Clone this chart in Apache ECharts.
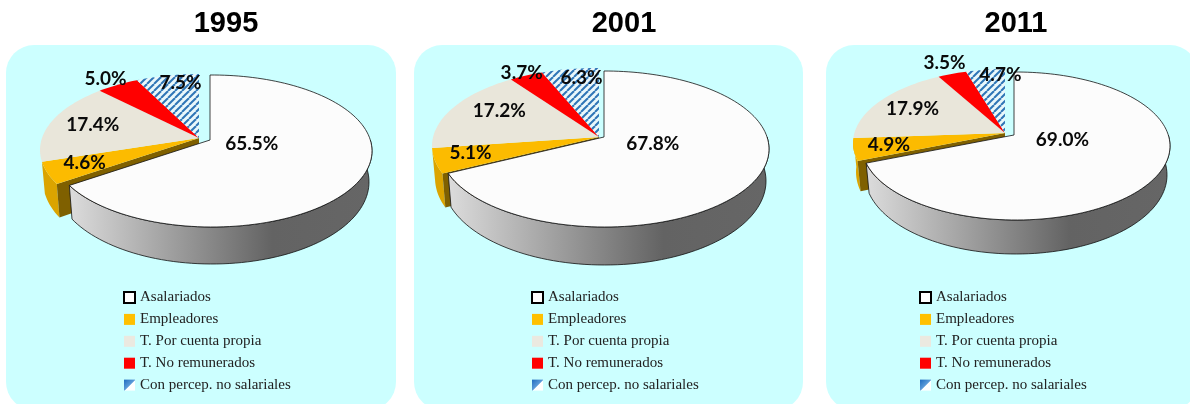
<!DOCTYPE html>
<html><head><meta charset="utf-8">
<style>html,body{margin:0;padding:0;background:#fff}#c{width:1190px;height:404px}</style>
<script src="https://cdn.jsdelivr.net/npm/echarts@6/dist/echarts.min.js"></script>
</head><body><div id="c"></div>
<script>
// ---- data ----
const categories = ['Asalariados','Empleadores','T. Por cuenta propia','T. No remunerados','Con percep. no salariales'];
const years = ['1995','2001','2011'];
const values1995 = [65.5,4.6,17.4,5.0,7.5];
const values2001 = [67.8,5.1,17.2,3.7,6.3];
const values2011 = [69.0,4.9,17.9,3.5,4.7];
const seriesByYear = [values1995,values2001,values2011];

// ---- layout: the projected pie of each panel ----
const panels = [
 {x:6,w:390,titleX:226,legendX:124,legendY:291,rx:160,ry:76,depth:31,grow:6,
  main:{ax:210,ay:140,cx:212,cy:151}, rest:{ax:199,ay:138,cx:200,cy:150},
  nudge:[[-43,-17],[-28,5],[-13,-2],[-37,-22],[4,-11]]},
 {x:414,w:389,titleX:624,legendX:532,legendY:291,rx:164.5,ry:78,depth:32,grow:6,
  main:{ax:604,ay:137,cx:604.5,cy:149}, rest:{ax:599,ay:137,cx:596.5,cy:146},
  nudge:[[-35,-18],[-34,2],[-9,-8],[-29,-23],[2,-13]]},
 {x:826,w:372,titleX:1016,legendX:920,legendY:291,rx:154,ry:74,depth:29,grow:5,
  main:{ax:1014,ay:135,cx:1016,cy:146}, rest:{ax:1005,ay:133,cx:1007,cy:143},
  nudge:[[-28,-20],[-26,2],[-11,-3],[-24,-29],[9,-14]]}
];
const sliceColors = ['#FCFCFC','#FCBB00','#E9E6DA','#FF0000',null];
const PANEL_BG = '#CCFFFF';

function hatchTile(){
  const s=7,c=document.createElement('canvas');c.width=c.height=s;
  const g=c.getContext('2d');g.fillStyle='#EAF8FB';g.fillRect(0,0,s,s);
  g.strokeStyle='#2E75B6';g.lineWidth=2;
  for(let i=-s;i<=s*2;i+=s){g.beginPath();g.moveTo(i,s);g.lineTo(i+s,0);g.stroke();}
  return c;
}
const hatch={image:hatchTile(),repeat:'repeat'};
const RAD=Math.PI/180;

// ray from the (off-centre) apex at a true pie angle, met with the projected ellipse
function rim(g,p,deg){
  const sx=Math.sin(deg*RAD),cy=-Math.cos(deg*RAD);
  const a0=(g.ax-g.cx)/p.rx,b0=(g.ay-g.cy)/p.ry;
  const d=a0*sx+b0*cy,t=-d+Math.sqrt(d*d+1-(a0*a0+b0*b0));
  return {x:g.ax+t*p.rx*sx,y:g.ay+t*p.ry*cy,t};
}
function arc(g,p,from,to){
  const out=[],n=Math.max(4,Math.ceil(Math.abs(to-from)/2));
  for(let i=0;i<=n;i++){const r=rim(g,p,from+(to-from)*i/n);out.push([r.x,r.y]);}
  return out;
}
// wall below an arc: lower rim is slightly narrower and deeper
function lower(g,p,pts){
  return pts.map(q=>{
    const u=(q[0]-g.cx)/p.rx,v=(q[1]-g.cy)/p.ry;
    return [g.cx+u*(p.rx-3),g.cy+p.depth+v*(p.ry+p.grow)];
  });
}
function sliceSeries(pi,ci){
  const p=panels[pi],vals=seriesByYear[pi];
  const total=vals.reduce((a,b)=>a+b,0);
  const start=vals.slice(0,ci).reduce((a,b)=>a+b,0)/total*360;
  const g=ci===0?p.main:p.rest;
  return {
    type:'custom',name:categories[ci],coordinateSystem:'none',silent:true,animation:false,
    data:[vals[ci]],
    renderItem(params,api){
      const v=api.value(0),end=start+v/total*360;
      const top=arc(g,p,start,end),ch=[];
      const base=ci===0?50:10+ci*2;
      if(ci===0){
        const from=Math.max(start,90);
        const wt=arc(g,p,from,end),wb=lower(g,p,wt).reverse();
        ch.push({type:'polygon',z2:base,shape:{points:wt.concat(wb)},
          style:{stroke:'#111',lineWidth:.8,fill:new echarts.graphic.LinearGradient(0,0,1,0,[
            {offset:0,color:'#DCDCDC'},{offset:.67,color:'#636363'},{offset:1,color:'#666666'}])}});
      }
      if(ci===1){
        const wb=lower(g,p,top);
        const e=top[0],f=wb[0];
        ch.push({type:'polygon',z2:base-2,shape:{points:top.concat(wb.slice().reverse())},style:{fill:'#DBA400'}});
        ch.push({type:'polygon',z2:base-1,shape:{points:[[g.ax,g.ay],e,f,[g.ax,g.ay+p.depth]]},style:{fill:'#7F6000'}});
      }
      const fill=ci===4?hatch:sliceColors[ci];
      ch.push({type:'polygon',z2:base+3,shape:{points:[[g.ax,g.ay]].concat(top)},
        style:ci===0?{fill,stroke:'#111',lineWidth:.8}:{fill}});
      const mid=(start+end)/2,m=rim(g,p,mid),n=p.nudge[ci];
      ch.push({type:'text',z2:200,
        x:g.ax+(m.x-g.ax)/m.t*.6+n[0],y:g.ay+(m.y-g.ay)/m.t*.6+n[1],
        style:{text:v.toFixed(1)+'%',fill:'#0A0A0A',font:'bold 19px Lato',align:'center',verticalAlign:'middle'}});
      return {type:'group',children:ch};
    }
  };
}
const series=[];
panels.forEach((p,pi)=>categories.forEach((c,ci)=>series.push(sliceSeries(pi,ci))));

const legendItem=(name,i)=>{
  const st=[
    {color:'#FFFFFF',borderColor:'#000',borderWidth:2},
    {color:'#FFC000'},{color:'#EBE9E0'},{color:'#FF0000'},
    {color:new echarts.graphic.LinearGradient(0,0,1,1,[
      {offset:0,color:'#1F6CC0'},{offset:.5,color:'#5C9BD8'},{offset:.56,color:'#FFFFFF'},{offset:1,color:'#FFFFFF'}])}
  ][i];
  return {name,icon:'rect',itemStyle:st};
};
const chart=echarts.init(document.getElementById('c'),null,{renderer:'canvas'});
chart.setOption({
  animation:false,backgroundColor:'#FFFFFF',
  title:panels.map((p,i)=>({text:years[i],left:p.titleX,top:9,padding:0,textAlign:'center',
    textStyle:{fontFamily:'Liberation Sans',fontWeight:'bold',fontSize:29,color:'#000'}})),
  legend:panels.map(p=>({orient:'vertical',left:p.legendX-1,top:p.legendY-1,padding:0,
    itemWidth:11,itemHeight:11,itemGap:6.9,selectedMode:false,inactiveColor:'#222',
    textStyle:{fontFamily:'Liberation Serif',fontSize:15,color:'#222'},
    data:categories.map(legendItem)})),
  graphic:panels.map(p=>({type:'rect',z:-1,silent:true,
    shape:{x:p.x,y:45,width:p.w,height:365,r:28},style:{fill:PANEL_BG}})),
  series
});
</script></body></html>
